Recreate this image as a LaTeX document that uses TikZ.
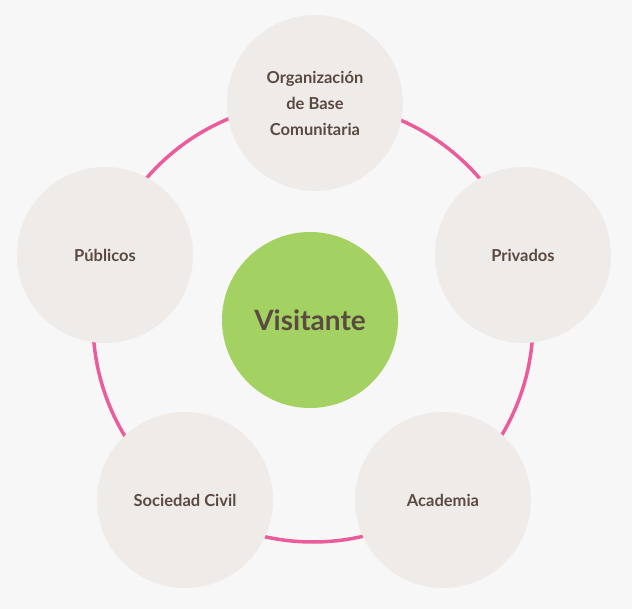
\documentclass[tikz,border=0pt]{standalone}
\usepackage{fontspec}
\setmainfont{Lato}
\definecolor{bgcol}{HTML}{F8F7F7}
\definecolor{petal}{HTML}{EFEBE8}
\definecolor{leaf}{HTML}{A3D162}
\definecolor{ink}{HTML}{5B4A42}
\definecolor{ring}{HTML}{E8418B}
\tikzset{
	% ------- custom
	actor/.style={
		circle, fill=petal, minimum size=176pt, inner sep=0pt,
		font=\bfseries\fontsize{16.5}{26}\selectfont, text=ink, align=center,
	},
	hub/.style={
		circle, fill=leaf, minimum size=176pt, inner sep=0pt,
		font=\bfseries\fontsize{28}{32}\selectfont, text=ink,
	},
	link/.style={
		ring, line width=3.5pt, opacity=0.85,
	},
}
\begin{document}
\begin{tikzpicture}[x=1pt, y=-1pt]

% frame %{{{1

	\fill[bgcol] (0,0) rectangle (632,609);
	\useasboundingbox (0,0) rectangle (632,609);

% ring %{{{1

	\coordinate (O) at (313,322);
	\draw[link] (O) circle (220pt);

% nodes %{{{1

	\node[hub]   (vis) at (310,320) {Visitante};
	\node[actor] (obc) at (315,103) {Organización\\de Base\\Comunitaria};
	\node[actor] (pri) at (523,255) {Privados};
	\node[actor] (aca) at (443,500) {Academia};
	\node[actor] (soc) at (185,500) {Sociedad Civil};
	\node[actor] (pub) at (105,255) {Públicos};

\end{tikzpicture}
\end{document}
